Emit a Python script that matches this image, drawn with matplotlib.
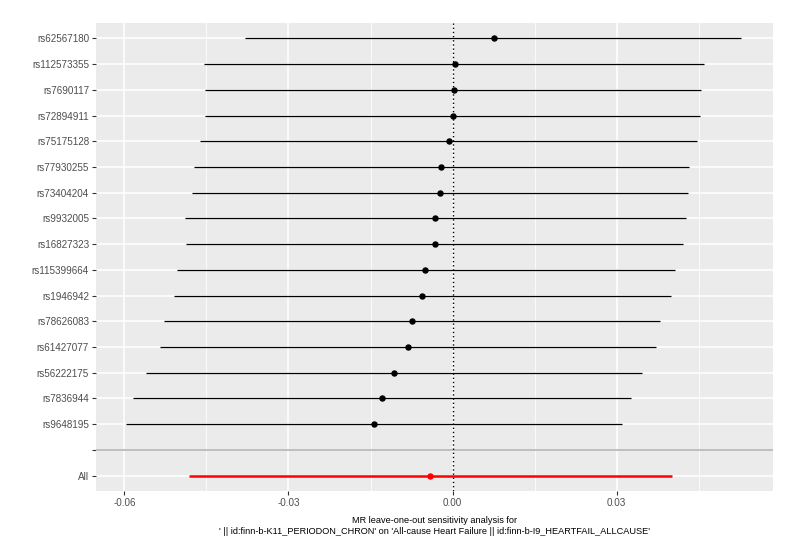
import numpy as np
import matplotlib
matplotlib.use('Agg')
import matplotlib.pyplot as plt
from matplotlib.ticker import MultipleLocator

plt.rcParams['font.family'] = ['Liberation Sans', 'DejaVu Sans']

# leave-one-out estimates, top to bottom
snps = ['rs62567180', 'rs112573355', 'rs7690117', 'rs72894911', 'rs75175128',
        'rs77930255', 'rs73404204', 'rs9932005', 'rs16827323', 'rs115399664',
        'rs1946942', 'rs78626083', 'rs61427077', 'rs56222175', 'rs7836944',
        'rs9648195']
b = [0.0076, 0.0004, 0.0002, 0.0001, -0.0007, -0.0021, -0.0023, -0.0032,
     -0.0033, -0.0050, -0.0056, -0.0074, -0.0082, -0.0107, -0.0129, -0.0144]
lo = [-0.0380, -0.0455, -0.0453, -0.0453, -0.0461, -0.0473, -0.0476, -0.0490,
      -0.0487, -0.0504, -0.0509, -0.0527, -0.0535, -0.0560, -0.0584, -0.0597]
up = [0.0528, 0.0460, 0.0455, 0.0452, 0.0447, 0.0433, 0.0431, 0.0426,
      0.0421, 0.0406, 0.0399, 0.0380, 0.0372, 0.0347, 0.0327, 0.0310]

all_b = -0.0041
all_lo = -0.0482
all_up = 0.0402

xticks = [-0.06, -0.03, 0.00, 0.03]
xlabels = ['-0.06', '-0.03', '0.00', '0.03']

xlab = ("MR leave-one-out sensitivity analysis for\n"
        "' || id:finn-b-K11_PERIODON_CHRON' on 'All-cause Heart Failure || id:finn-b-I9_HEARTFAIL_ALLCAUSE'")

n = len(snps)
y_snp = np.arange(n + 2, 2, -1)  # top row highest
y_blank = 2
y_all = 1

fig = plt.figure(figsize=(8, 5.47), dpi=100)
ax = fig.add_axes([0.12, 0.1024, 0.84625, 0.8556])
ax.set_facecolor('#EBEBEB')

ax.set_xlim(-0.0652, 0.0586)
ax.set_ylim(0.4, n + 2.6)

ax.xaxis.set_minor_locator(MultipleLocator(0.015))
ax.set_xticks(xticks)
ax.set_xticklabels(xlabels)
ax.set_yticks(list(y_snp) + [y_blank, y_all])
ax.set_yticklabels(snps + ['', 'All'])

ax.grid(which='major', color='white', linewidth=1.1)
ax.grid(which='minor', axis='x', color='white', linewidth=0.55)
ax.set_axisbelow(True)
for s in ax.spines.values():
    s.set_visible(False)

ax.tick_params(axis='both', which='major', length=3, width=0.8, color='#333333',
               labelsize=7.1, labelcolor='#4D4D4D', pad=2)
ax.tick_params(axis='both', which='minor', length=0)

# grey line at blank row, dotted line at zero
ax.axhline(y_blank, color='#BEBEBE', linewidth=1.4, zorder=2)
ax.axvline(0, color='black', linestyle=(0, (1, 2)), linewidth=1.0, zorder=2)

ax.hlines(y_snp, lo, up, color='black', linewidth=0.9, zorder=3)
ax.plot(b, y_snp, 'o', color='black', markersize=3.6, zorder=4)

ax.hlines(y_all, all_lo, all_up, color='red', linewidth=1.8, zorder=3)
ax.plot([all_b], [y_all], 'o', color='red', markersize=3.6, zorder=4)

ax.set_xlabel(xlab, fontsize=6.6, color='black', labelpad=6, linespacing=1.3)

fig.savefig('out.png', dpi=100)
